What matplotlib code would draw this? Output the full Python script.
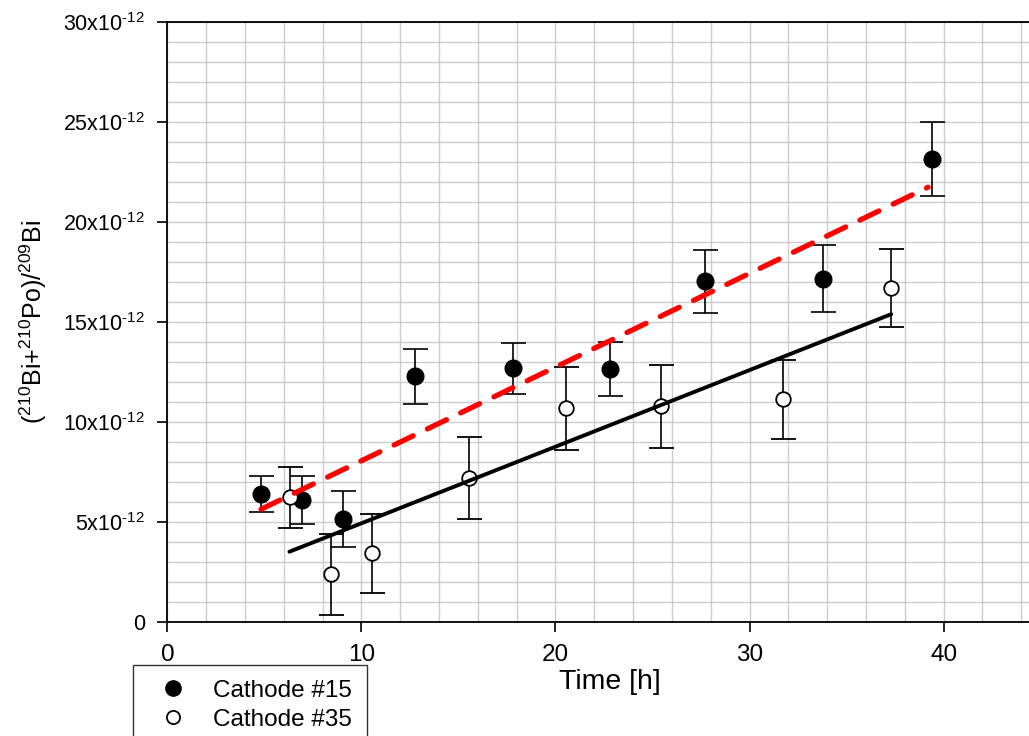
import numpy as np
import matplotlib.pyplot as plt
from matplotlib.lines import Line2D
from matplotlib.ticker import MultipleLocator, FuncFormatter

plt.rcParams['font.family'] = ['Liberation Sans', 'DejaVu Sans']
plt.rcParams['mathtext.fontset'] = 'custom'
plt.rcParams['mathtext.rm'] = 'Liberation Sans'
plt.rcParams['mathtext.it'] = 'Liberation Sans'

# Cathode #15 (values in units of 1e-12)
t15 = [4.83, 6.94, 9.05, 12.77, 17.80, 22.80, 27.72, 33.80, 39.41]
r15 = [6.39, 6.08, 5.14, 12.28, 12.68, 12.63, 17.03, 17.15, 23.13]
e15 = [0.90, 1.20, 1.40, 1.37, 1.28, 1.35, 1.58, 1.68, 1.86]

# Cathode #35
t35 = [6.32, 8.42, 10.53, 15.54, 20.54, 25.43, 31.72, 37.30]
r35 = [6.22, 2.37, 3.42, 7.20, 10.67, 10.78, 11.13, 16.70]
e35 = [1.54, 2.04, 1.98, 2.06, 2.07, 2.07, 1.97, 1.94]

# linear fits: intercept, slope, x range
fit15 = [3.36, 0.4685, 4.83, 39.2]
fit35 = [1.09, 0.383, 6.29, 37.3]

scale = 1e-12

fig = plt.figure(figsize=(10.29, 7.36), dpi=100)
ax = fig.add_axes([0.1626, 0.1553, 0.8374, 0.8152])

ax.errorbar(t15, np.array(r15) * scale, yerr=np.array(e15) * scale, fmt='o',
            color='black', ms=12, mfc='black', mec='black', ecolor='black',
            elinewidth=1.2, capsize=9, capthick=1.2, zorder=3)
ax.errorbar(t35, np.array(r35) * scale, yerr=np.array(e35) * scale, fmt='o',
            color='black', ms=10.5, mfc='white', mec='black', mew=1.3, ecolor='black',
            elinewidth=1.2, capsize=9, capthick=1.2, zorder=3)

x15 = np.array(fit15[2:])
ax.plot(x15, (fit15[0] + fit15[1] * x15) * scale, color='#ff0000', lw=3.8,
        dashes=(4, 3), solid_capstyle='round', dash_capstyle='round', zorder=4)
x35 = np.array(fit35[2:])
ax.plot(x35, (fit35[0] + fit35[1] * x35) * scale, color='black', lw=2.8,
        solid_capstyle='round', zorder=4)

ax.set_xlim(0, 44.4)
ax.set_ylim(0, 30e-12)
ax.xaxis.set_major_locator(MultipleLocator(10))
ax.xaxis.set_minor_locator(MultipleLocator(2))
ax.yaxis.set_major_locator(MultipleLocator(5e-12))
ax.yaxis.set_minor_locator(MultipleLocator(1e-12))


def ylab(v, pos):
    n = int(round(v / 1e-12))
    if n == 0:
        return '0'
    return '%dx10$^{\u201012}$' % n


ax.yaxis.set_major_formatter(FuncFormatter(ylab))
ax.grid(which='both', color='#cccccc', lw=1.0)
ax.set_axisbelow(True)
ax.tick_params(which='major', direction='out', length=7, width=1.2, pad=9)
ax.tick_params(axis='x', labelsize=17.5)
ax.tick_params(axis='y', labelsize=15.5)
ax.tick_params(which='minor', length=0)
ax.spines['right'].set_visible(False)
for s in ['left', 'bottom', 'top']:
    ax.spines[s].set_linewidth(1.3)

ax.set_xlabel('Time [h]', fontsize=20.5, labelpad=2)
ax.xaxis.label.set_x(0.514)
ax.set_ylabel(r'($^{210}$Bi+$^{210}$Po)/$^{209}$Bi', fontsize=18, labelpad=10)

handles = [
    Line2D([], [], ls='none', marker='o', ms=11, mfc='black', mec='black'),
    Line2D([], [], ls='none', marker='o', ms=9.5, mfc='white', mec='black', mew=1.3),
]
leg = fig.legend(handles, ['Cathode #15', 'Cathode #35'], loc='upper left',
                 bbox_to_anchor=(133 / 1029, 1 - 665 / 736), numpoints=1,
                 fontsize=17.5, frameon=True, fancybox=False, edgecolor='black',
                 handlelength=2.1, handletextpad=0.6, borderpad=0.6,
                 labelspacing=0.3, borderaxespad=0)
leg.get_frame().set_linewidth(1.0)

fig.savefig('out.png', dpi=100)
